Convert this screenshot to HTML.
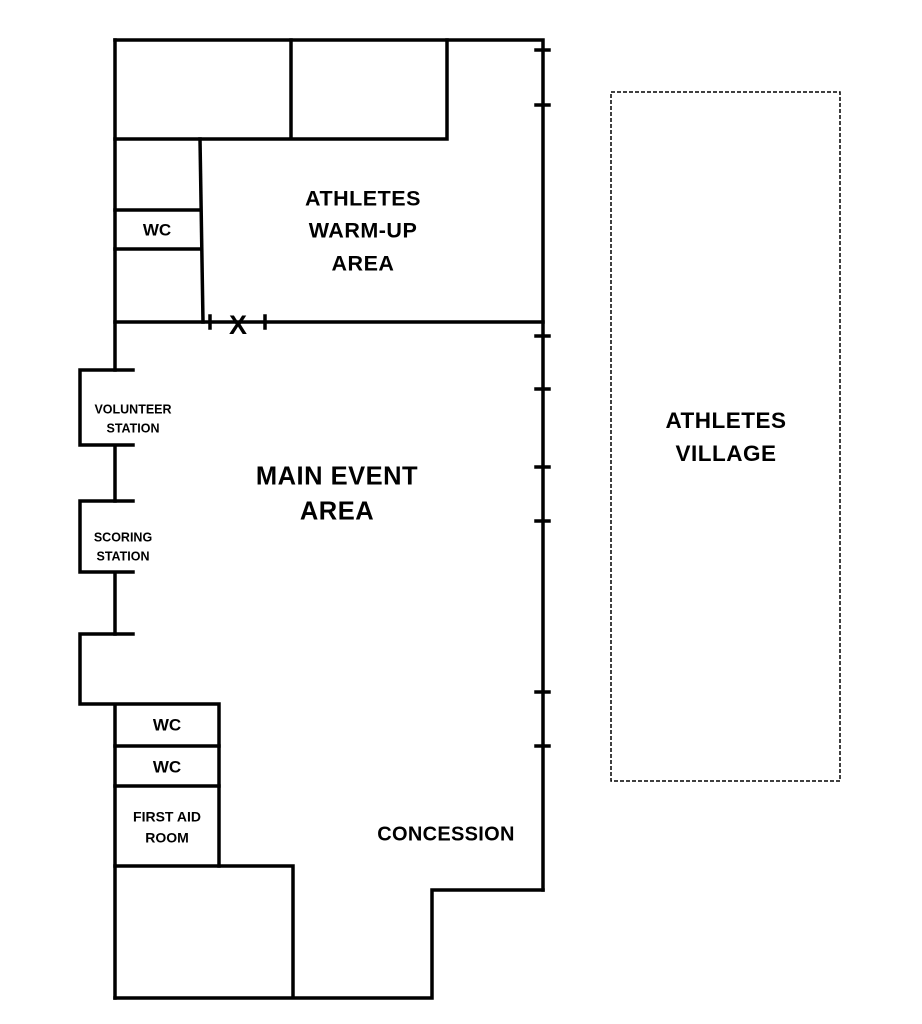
<!DOCTYPE html>
<html><head><style>body{margin:0;background:#fff}svg{display:block}text{font-family:"Liberation Sans",sans-serif;font-weight:bold;fill:#000;text-anchor:middle;dominant-baseline:middle}</style></head>
<body>
<svg width="922" height="1024" viewBox="0 0 922 1024">
<g stroke="#000" stroke-width="3.5" fill="none" stroke-linecap="square">
<path d="M115 40H543V890"/>
<path d="M115 40V370"/>
<path d="M115 139H447V40M291 40V139"/>
<path d="M200 139L203 322"/>
<path d="M115 210H200M115 249H201"/>
<path d="M115 322H543"/>
<path d="M210 316V328M265 316V328"/>
<path d="M536 50H549M536 105H549M536 336H549M536 389H549M536 467H549M536 521H549M536 692H549M536 746H549"/>
<path d="M80 370H133M80 370V445H133M115 445V501"/>
<path d="M80 501H133M80 501V572H133M115 572V634"/>
<path d="M80 634H133M80 634V704H219V866M115 704V998"/>
<path d="M115 746H219M115 786H219"/>
<path d="M115 866H293V998M115 998H432V890H543"/>
</g>
<rect x="611" y="92" width="229" height="689" fill="none" stroke="#000" stroke-width="1.5" stroke-dasharray="4,2"/>
<text x="238" y="327" font-size="27">X</text>
<text x="363" y="200" font-size="21.5" letter-spacing="0.5">ATHLETES</text>
<text x="363" y="232" font-size="21.5" letter-spacing="0.5">WARM-UP</text>
<text x="363" y="265" font-size="21.5" letter-spacing="0.5">AREA</text>
<text x="337" y="478" font-size="25.5" letter-spacing="0.5">MAIN EVENT</text>
<text x="337" y="513" font-size="25.5" letter-spacing="0.5">AREA</text>
<text x="133" y="410" font-size="12.5">VOLUNTEER</text>
<text x="133" y="429" font-size="12.5">STATION</text>
<text x="123" y="538" font-size="12.5">SCORING</text>
<text x="123" y="557" font-size="12.5">STATION</text>
<text x="157" y="231" font-size="17">WC</text>
<text x="167" y="726" font-size="17">WC</text>
<text x="167" y="768" font-size="17">WC</text>
<text x="167" y="818" font-size="14">FIRST AID</text>
<text x="167" y="839" font-size="14">ROOM</text>
<text x="446" y="835" font-size="20" letter-spacing="0.3">CONCESSION</text>
<text x="726" y="422" font-size="22.5" letter-spacing="0.5">ATHLETES</text>
<text x="726" y="455" font-size="22.5" letter-spacing="0.5">VILLAGE</text>
</svg>
</body></html>
